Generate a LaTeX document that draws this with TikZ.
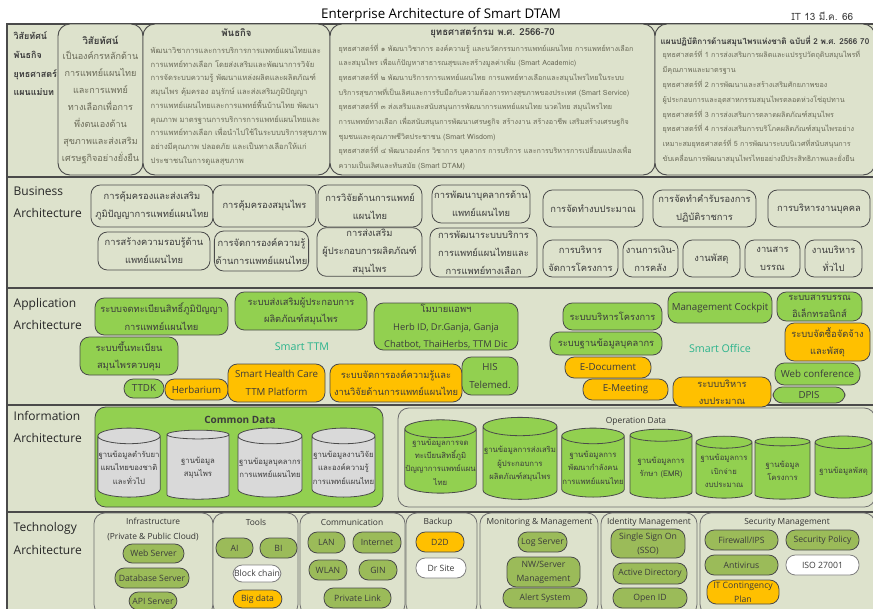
\documentclass[tikz,border=0pt]{standalone}
\usepackage{fontspec}
\setmainfont[Script=Thai]{Loma}
\newfontfamily\enfont{Open Sans}
\usetikzlibrary{shapes.geometric}
\definecolor{panelbg}{HTML}{DDE2CC}
\definecolor{rowline}{HTML}{4A4A4A}
\definecolor{appgreen}{HTML}{92D050}
\definecolor{apporange}{HTML}{FFC000}
\definecolor{techgreen}{HTML}{9BBB59}
\definecolor{cylgray}{HTML}{D9D9D9}
\definecolor{textdark}{HTML}{3C3C3C}
\definecolor{textmid}{HTML}{6A6A58}
\definecolor{smartteal}{HTML}{2BB38C}
\begin{document}
\begin{tikzpicture}[x=0.75pt, y=-0.75pt,
  sz/.style 2 args={minimum width=#1*0.75pt, minimum height=#2*0.75pt},
  rowframe/.style={draw=rowline, fill=panelbg, line width=1pt},
  rowlbl/.style={anchor=west, align=left, text=black!85, font=\enfont\fontsize{9}{17}\selectfont},
  topbox/.style={draw=rowline, fill=panelbg, rounded corners=9pt, line width=0.7pt},
  ttl/.style={text=textdark, font=\bfseries\fontsize{7.2}{10}\selectfont},
  body/.style={anchor=west, align=left, text=textmid, font=\fontsize{5.4}{11}\selectfont},
  biz/.style={draw=rowline, fill=panelbg, rounded corners=7pt, line width=0.6pt, inner sep=1pt,
    align=center, text=textdark, font=\fontsize{7}{13.5}\selectfont},
  appg/.style={biz, fill=appgreen, font=\fontsize{7}{13}\selectfont},
  appo/.style={appg, fill=apporange},
  en/.style={font=\enfont\fontsize{7.3}{13}\selectfont},
  smart/.style={text=smartteal, font=\enfont\fontsize{8}{10}\selectfont},
  cyl/.style={cylinder, shape border rotate=90, aspect=0.25, draw=rowline, line width=0.6pt,
    fill=cylgray, inner sep=0.5pt, align=center, text=textdark, font=\fontsize{5.8}{10}\selectfont},
  cylop/.style={cyl, fill=appgreen},
  area/.style={draw=rowline!80, fill=panelbg, rounded corners=8pt, line width=0.6pt},
  areattl/.style={text=black!80, align=center, font=\enfont\fontsize{6.3}{11}\selectfont},
  tech/.style={draw=rowline, fill=techgreen, rounded corners=7pt, line width=0.6pt, inner sep=0.5pt,
    align=center, text=textdark, font=\enfont\fontsize{6.5}{10.5}\selectfont},
  techo/.style={tech, fill=apporange},
  techw/.style={tech, fill=white, draw=rowline!70}
]
\useasboundingbox (0,0) rectangle (873,608);

% title
\node[font=\enfont\fontsize{10}{12}\selectfont] (title) at (441,15) {Enterprise Architecture of Smart DTAM};
\node[anchor=east, text=textdark, font=\fontsize{7.5}{9}\selectfont] (date) at (858,16) {IT 13 มี.ค. 66};

% rows
\foreach \ya/\yb in {24/177, 177/288, 288/405, 405/512, 512/615}
  \draw[rowframe] (7,\ya) rectangle (880,\yb);

% vision, mission, strategy
\node[anchor=west, align=left, text=textdark, font=\bfseries\fontsize{6.7}{14}\selectfont] (vmslbl) at (9,64)
  {วิสัยทัศน์\\พันธกิจ\\ยุทธศาสตร์\\แผนแม่บท};
\node[topbox, sz={85}{151}] (vis) at (100.5,99.5) {};
\node[ttl] (visttl) at (100.5,40) {วิสัยทัศน์};
\node[align=center, text=textmid, font=\fontsize{6.8}{12.75}\selectfont] (vistxt) at (100.5,107)
  {เป็นองค์กรหลักด้าน\\การแพทย์แผนไทย\\และการแพทย์\\ทางเลือกเพื่อการ\\พึ่งตนเองด้าน\\สุขภาพและส่งเสริม\\เศรษฐกิจอย่างยั่งยืน};
\node[topbox, sz={187}{151}] (mis) at (236.5,99.5) {};
\node[ttl] (misttl) at (236.5,33) {พันธกิจ};
\node[body, font=\fontsize{5.7}{10.3}\selectfont] (mistxt) at (146,106)
  {พัฒนาวิชาการและการบริการการแพทย์แผนไทยและ\\การแพทย์ทางเลือก โดยส่งเสริมและพัฒนาการวิจัย\\การจัดระบบความรู้ พัฒนาแหล่งผลิตและผลิตภัณฑ์\\สมุนไพร คุ้มครอง อนุรักษ์ และส่งเสริมภูมิปัญญา\\การแพทย์แผนไทยและการแพทย์พื้นบ้านไทย พัฒนา\\คุณภาพ มาตรฐานการบริการการแพทย์แผนไทยและ\\การแพทย์ทางเลือก เพื่อนำไปใช้ในระบบบริการสุขภาพ\\อย่างมีคุณภาพ ปลอดภัย และเป็นทางเลือกให้แก่\\ประชาชนในการดูแลสุขภาพ};
\node[topbox, sz={325}{151}] (strat) at (492.5,99.5) {};
\node[ttl] (stratttl) at (492.5,33) {ยุทธศาสตร์กรม พ.ศ. 2566-70};
\node[body] (strattxt) at (334,107)
  {ยุทธศาสตร์ที่ ๑ พัฒนาวิชาการ องค์ความรู้ และนวัตกรรมการแพทย์แผนไทย การแพทย์ทางเลือก\\และสมุนไพร เพื่อแก้ปัญหาสาธารณสุขและสร้างมูลค่าเพิ่ม (Smart Academic)\\ยุทธศาสตร์ที่ ๒ พัฒนาบริการการแพทย์แผนไทย การแพทย์ทางเลือกและสมุนไพรไทยในระบบ\\บริการสุขภาพที่เป็นเลิศและการรับมือกับความต้องการทางสุขภาพของประเทศ (Smart Service)\\ยุทธศาสตร์ที่ ๓ ส่งเสริมและสนับสนุนการพัฒนาการแพทย์แผนไทย นวดไทย สมุนไพรไทย\\การแพทย์ทางเลือก เพื่อสนับสนุนการพัฒนาเศรษฐกิจ สร้างงาน สร้างอาชีพ เสริมสร้างเศรษฐกิจ\\ชุมชนและคุณภาพชีวิตประชาชน (Smart Wisdom)\\ยุทธศาสตร์ที่ ๔ พัฒนาองค์กร วิชาการ บุคลากร การบริการ และการบริหารการเปลี่ยนแปลงเพื่อ\\ความเป็นเลิศและทันสมัย (Smart DTAM)};
\node[topbox, sz={220}{151}] (plan) at (765,99.5) {};
\node[ttl, font=\bfseries\fontsize{6.1}{10}\selectfont] (planttl) at (765,41) {แผนปฏิบัติการด้านสมุนไพรแห่งชาติ ฉบับที่ 2 พ.ศ. 2566 70};
\node[body, font=\fontsize{5.4}{11.1}\selectfont] (plantxt) at (658,107)
  {ยุทธศาสตร์ที่ 1 การส่งเสริมการผลิตและแปรรูปวัตถุดิบสมุนไพรที่\\มีคุณภาพและมาตรฐาน\\ยุทธศาสตร์ที่ 2 การพัฒนาและสร้างเสริมศักยภาพของ\\ผู้ประกอบการและอุตสาหกรรมสมุนไพรตลอดห่วงโซ่อุปทาน\\ยุทธศาสตร์ที่ 3 การส่งเสริมการตลาดผลิตภัณฑ์สมุนไพร\\ยุทธศาสตร์ที่ 4 การส่งเสริมการบริโภคผลิตภัณฑ์สมุนไพรอย่าง\\เหมาะสมยุทธศาสตร์ที่ 5 การพัฒนาระบบนิเวศที่สนับสนุนการ\\ขับเคลื่อนการพัฒนาสมุนไพรไทยอย่างมีประสิทธิภาพและยั่งยืน};

% business
\node[rowlbl] (bizlbl) at (9,202) {Business\\Architecture};
\node[biz, sz={122}{42}] (bz1) at (152,206) {การคุ้มครองและส่งเสริม\\ภูมิปัญญาการแพทย์แผนไทย};
\node[biz, sz={103}{42}] (bz2) at (264.5,206) {การคุ้มครองสมุนไพร};
\node[biz, sz={104}{42}] (bz3) at (370,206) {การวิจัยด้านการแพทย์\\แผนไทย};
\node[biz, sz={98}{38}] (bz4) at (481,204) {การพัฒนาบุคลากรด้าน\\แพทย์แผนไทย};
\node[biz, sz={100}{37}] (bz5) at (593,208.5) {การจัดทำงบประมาณ};
\node[biz, sz={103}{37}] (bz6) at (704.5,208.5) {การจัดทำคำรับรองการ\\ปฏิบัติราชการ};
\node[biz, sz={102}{37}] (bz7) at (819,208.5) {การบริหารงานบุคคล};
\node[biz, sz={112}{38}] (bz8) at (154,251) {การสร้างความรอบรู้ด้าน\\แพทย์แผนไทย};
\node[biz, sz={93}{40}] (bz9) at (261.5,251) {การจัดการองค์ความรู้\\ด้านการแพทย์แผนไทย};
\node[biz, sz={105}{46}] (bz10) at (369.5,252) {การส่งเสริม\\ผู้ประกอบการผลิตภัณฑ์\\สมุนไพร};
\node[biz, sz={107}{49}] (bz11) at (483.5,252.5) {การพัฒนาระบบบริการ\\การแพทย์แผนไทยและ\\การแพทย์ทางเลือก};
\node[biz, sz={75}{37}] (bz12) at (580.5,258.5) {การบริหาร\\จัดการโครงการ};
\node[biz, sz={55}{37}] (bz13) at (650.5,258.5) {งานการเงิน-\\การคลัง};
\node[biz, sz={57}{37}] (bz14) at (711.5,258.5) {งานพัสดุ};
\node[biz, sz={55}{37}] (bz15) at (772.5,258.5) {งานสาร\\บรรณ};
\node[biz, sz={57}{37}] (bz16) at (833.5,258.5) {งานบริหาร\\ทั่วไป};

% application
\node[rowlbl] (applbl) at (9,314) {Application\\Architecture};
\node[appg, sz={133}{37}] (ap1) at (161.5,316.5) {ระบบจดทะเบียนสิทธิ์ภูมิปัญญา\\การแพทย์แผนไทย};
\node[appg, sz={132}{38}] (ap2) at (301,311) {ระบบส่งเสริมผู้ประกอบการ\\ผลิตภัณฑ์สมุนไพร};
\node[appg, sz={144}{47}] (ap3) at (446,326.5) {โมบายแอพฯ\\{\enfont Herb ID, Dr.Ganja, Ganja}\\{\enfont Chatbot, ThaiHerbs, TTM Dic}};
\node[appg, sz={98}{38}] (ap4) at (129,356) {ระบบขึ้นทะเบียน\\สมุนไพรควบคุม};
\node[smart] (smttm) at (302,347) {Smart TTM};
\node[appg, en, sz={40}{19}] (ap5) at (144,388.5) {TTDK};
\node[appo, en, sz={63}{21}] (ap6) at (196.5,389.5) {Herbarium};
\node[appo, en, sz={97}{38}] (ap7) at (276.5,383) {Smart Health Care\\TTM Platform};
\node[appo, sz={132}{38}] (ap8) at (396,383) {ระบบจัดการองค์ความรู้และ\\งานวิจัยด้านการแพทย์แผนไทย};
\node[appg, en, sz={56}{38}] (ap9) at (490,376) {HIS\\Telemed.};
\node[appg, sz={99}{27}] (ap10) at (612.5,316.5) {ระบบบริหารโครงการ};
\node[appg, sz={112}{23}] (ap11) at (606,343.5) {ระบบฐานข้อมูลบุคลากร};
\node[appo, en, sz={86}{21}] (ap12) at (608,367.5) {E-Document};
\node[appo, en, sz={85}{21}] (ap13) at (625.5,389.5) {E-Meeting};
\node[appo, sz={98}{30}] (ap14) at (722,392) {ระบบบริหาร\\งบประมาณ};
\node[smart] (smoff) at (720,348) {Smart Office};
\node[appg, en, sz={104}{31}] (ap15) at (720,307.5) {Management Cockpit};
\node[appg, sz={85}{29}] (ap16) at (819.5,306.5) {ระบบสารบรรณ\\อิเล็กทรอนิกส์};
\node[appo, sz={85}{38}] (ap17) at (827.5,342) {ระบบจัดซื้อจัดจ้าง\\และพัสดุ};
\node[appg, en, sz={85}{22}] (ap18) at (817.5,374) {Web conference};
\node[appg, en, sz={72}{16}] (ap19) at (809,395) {DPIS};

% information
\node[rowlbl, font=\enfont\fontsize{9}{16.5}\selectfont] (inflbl) at (9,427) {Information\\Architecture};
\node[area, fill=appgreen, draw=rowline, sz={288}{100}] (common) at (239,457) {};
\node[text=textdark, font=\enfont\bfseries\fontsize{7.5}{9}\selectfont] (commonttl) at (240,420) {Common Data};
\node[cyl, sz={62}{69}] (cd1) at (129,467.5) {ฐานข้อมูลตำรับยา\\แผนไทยของชาติ\\และทั่วไป};
\node[cyl, sz={62}{69}] (cd2) at (198,467.5) {ฐานข้อมูล\\สมุนไพร};
\node[cyl, sz={64}{69}] (cd3) at (270,467.5) {ฐานข้อมูลบุคลากร\\การแพทย์แผนไทย};
\node[cyl, sz={63}{69}] (cd4) at (343.5,467.5) {ฐานข้อมูลงานวิจัย\\และองค์ความรู้\\การแพทย์แผนไทย};
\node[area, sz={477}{99}] (oper) at (636.5,457.5) {};
\node[areattl] (operttl) at (636,421) {Operation Data};
\node[cylop, sz={71}{70}] (od1) at (440.5,462) {ฐานข้อมูลการจด\\ทะเบียนสิทธิ์ภูมิ\\ปัญญาการแพทย์แผน\\ไทย};
\node[cylop, sz={74}{82}] (od2) at (520,464) {ฐานข้อมูลการส่งเสริม\\ผู้ประกอบการ\\ผลิตภัณฑ์สมุนไพร};
\node[cylop, sz={62}{69}] (od3) at (593,467.5) {ฐานข้อมูลการ\\พัฒนากำลังคน\\การแพทย์แผนไทย};
\node[cylop, sz={62}{69}] (od4) at (661,467.5) {ฐานข้อมูลการ\\รักษา (EMR)};
\node[cylop, sz={56}{62}] (od5) at (724,471) {ฐานข้อมูลการ\\เบิกจ่าย\\งบประมาณ};
\node[cylop, sz={55}{62}] (od6) at (782.5,471) {ฐานข้อมูล\\โครงการ};
\node[cylop, sz={57}{62}] (od7) at (843.5,471) {ฐานข้อมูลพัสดุ};

% technology
\node[rowlbl, font=\enfont\fontsize{9}{17}\selectfont] (teclbl) at (9,538.5) {Technology\\Architecture};
\node[area, sz={119}{102}] (infra) at (153.5,564) {};
\node[area, sz={85}{102}] (tools) at (255.5,564) {};
\node[area, sz={105}{102}] (comm) at (352.5,564) {};
\node[area, sz={71}{102}] (backup) at (441.5,564) {};
\node[area, sz={118}{102}] (monit) at (539,564) {};
\node[area, sz={96}{102}] (ident) at (649,564) {};
\node[area, sz={175}{102}] (secur) at (787.5,564) {};
\node[areattl] (infrattl) at (153,529.5) {Infrastructure\\(Private \& Public Cloud)};
\node[areattl] (toolsttl) at (256,522) {Tools};
\node[areattl] (commttl) at (352,522) {Communication};
\node[areattl] (backupttl) at (438,522) {Backup};
\node[areattl] (monitttl) at (539.5,522) {Monitoring \& Management};
\node[areattl] (identttl) at (649,522) {Identity Management};
\node[areattl] (securttl) at (787,522) {Security Management};
\node[tech, sz={61}{19}] (websrv) at (153.5,553.5) {Web Server};
\node[tech, sz={74}{20}] (dbsrv) at (152,578) {Database Server};
\node[tech, sz={48}{18}] (apisrv) at (153,601) {API Server};
\node[tech, sz={37}{20}] (ai) at (234.5,548) {AI};
\node[tech, sz={37}{20}] (bi) at (278.5,548) {BI};
\node[techw, sz={48}{17}] (chain) at (257,573.5) {Block chain};
\node[techo, sz={49}{18}] (bigdata) at (257.5,599) {Big data};
\node[tech, sz={37}{21}] (lan) at (326.5,542.5) {LAN};
\node[tech, sz={48}{21}] (inet) at (377,542.5) {Internet};
\node[tech, sz={38}{20}] (wlan) at (328,570) {WLAN};
\node[tech, sz={38}{20}] (gin) at (378,570) {GIN};
\node[tech, sz={67}{20}] (plink) at (357.5,598) {Private Link};
\node[techo, sz={48}{20}] (d2d) at (440,542) {D2D};
\node[techw, sz={50}{20}] (drsite) at (441,568) {Dr Site};
\node[tech, sz={49}{20}] (logsrv) at (542.5,542) {Log Server};
\node[tech, sz={73}{30}] (nwmgmt) at (543.5,572) {NW/Server\\Management};
\node[tech, sz={84}{20}] (alert) at (545,598) {Alert System};
\node[tech, sz={74}{29}] (sso) at (648,543.5) {Single Sign On\\(SSO)};
\node[tech, sz={74}{21}] (adir) at (650,573.5) {Active Directory};
\node[tech, sz={74}{20}] (openid) at (650,598) {Open ID};
\node[tech, sz={73}{20}] (fw) at (741.5,540) {Firewall/IPS};
\node[tech, sz={73}{20}] (secpol) at (822.5,540) {Security Policy};
\node[tech, sz={73}{20}] (antiv) at (741.5,565) {Antivirus};
\node[techw, sz={73}{20}] (iso) at (822.5,565) {ISO 27001};
\node[techo, sz={72}{24}] (itcp) at (743,592) {IT Contingency\\Plan};
\end{tikzpicture}
\end{document}
